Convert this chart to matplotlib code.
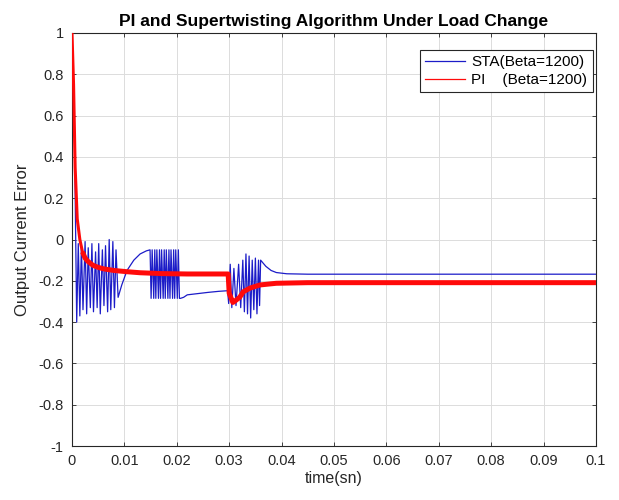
import matplotlib
matplotlib.use("Agg")
import matplotlib.pyplot as plt
from matplotlib.lines import Line2D

plt.rcParams['font.family'] = ['Liberation Sans', 'DejaVu Sans']

# STA (super-twisting) output current error: (time, value) points
sta_t = [0.0, 0.0004, 0.0009,
         0.0012, 0.0015, 0.0018, 0.0021, 0.0025, 0.0028, 0.0031, 0.0035, 0.0038, 0.0041,
         0.0045, 0.0048, 0.0051, 0.0054, 0.0058, 0.0061, 0.0064, 0.0068, 0.0071, 0.0074,
         0.0078, 0.0081, 0.0084, 0.0088,
         0.0095, 0.0105, 0.0118, 0.0130, 0.0142, 0.0149,
         0.0151, 0.0153, 0.0156, 0.0158, 0.0160, 0.0162, 0.0165, 0.0167, 0.0169, 0.0171,
         0.0174, 0.0176, 0.0178, 0.0180, 0.0183, 0.0185, 0.0187, 0.0189, 0.0192, 0.0194,
         0.0196, 0.0198, 0.0201, 0.0203, 0.0205, 0.0207,
         0.0213, 0.0220, 0.0240, 0.0260, 0.0280, 0.0297,
         0.0299, 0.0302, 0.0305, 0.0309, 0.0313, 0.0318, 0.0322, 0.0326, 0.0329, 0.0332,
         0.0335, 0.0338, 0.0341, 0.0344, 0.0347, 0.0350, 0.0353, 0.0356, 0.0358, 0.0360,
         0.0365, 0.0370, 0.0380, 0.0390, 0.0410, 0.0450, 0.1000]
sta_v = [1.0, 0.66, -0.40,
         -0.02, -0.37, -0.03, -0.34, -0.01, -0.36, -0.04, -0.33, -0.02, -0.35,
         -0.06, -0.33, -0.02, -0.36, -0.05, -0.32, -0.03, -0.35, 0.00, -0.34,
         -0.01, -0.33, -0.05, -0.28,
         -0.22, -0.15, -0.10, -0.07, -0.055, -0.05,
         -0.285, -0.05, -0.285, -0.05, -0.285, -0.05, -0.285, -0.05, -0.285, -0.05,
         -0.285, -0.05, -0.285, -0.05, -0.285, -0.05, -0.285, -0.05, -0.285, -0.05,
         -0.285, -0.05, -0.285, -0.05, -0.285, -0.285,
         -0.28, -0.268, -0.262, -0.256, -0.251, -0.248,
         -0.31, -0.12, -0.33, -0.14, -0.32, -0.12, -0.33, -0.10, -0.35, -0.07,
         -0.36, -0.08, -0.38, -0.10, -0.34, -0.09, -0.36, -0.10, -0.32, -0.10,
         -0.115, -0.13, -0.15, -0.16, -0.166, -0.168, -0.168]

# PI output current error: initial transient, then the chattering (thick) band
pi_start_t = [0.0, 0.0003, 0.0006, 0.0010, 0.0015, 0.0020]
pi_start_v = [1.0, 0.75, 0.35, 0.10, 0.0, -0.06]
pi_t = [0.0020, 0.0025, 0.0030, 0.0040, 0.0050,
        0.0060, 0.0080, 0.0105, 0.0130, 0.0170, 0.0220, 0.0298, 0.0300, 0.0307, 0.0310,
        0.0320, 0.0327, 0.0340, 0.0359, 0.0390, 0.0450, 0.1000]
pi_v = [-0.06, -0.09, -0.105, -0.125, -0.135,
        -0.142, -0.150, -0.156, -0.161, -0.165, -0.167, -0.167, -0.26, -0.305, -0.30,
        -0.28, -0.253, -0.235, -0.220, -0.212, -0.209, -0.209]

xticks = [0, 0.01, 0.02, 0.03, 0.04, 0.05, 0.06, 0.07, 0.08, 0.09, 0.1]
xticklabels = ["0", "0.01", "0.02", "0.03", "0.04", "0.05", "0.06", "0.07", "0.08", "0.09", "0.1"]
yticks = [-1, -0.8, -0.6, -0.4, -0.2, 0, 0.2, 0.4, 0.6, 0.8, 1]
yticklabels = ["-1", "-0.8", "-0.6", "-0.4", "-0.2", "0", "0.2", "0.4", "0.6", "0.8", "1"]
labels = ["STA(Beta=1200)", "PI    (Beta=1200)"]

blue = "#1c1cc8"
red = "#ff0a0a"

fig = plt.figure(figsize=(6.19, 5.0), dpi=100)
ax = fig.add_axes([0.1163, 0.108, 0.8465, 0.826])

ax.plot(sta_t, sta_v, color=blue, lw=0.9, zorder=3)
ax.plot(pi_start_t, pi_start_v, color=red, lw=2.2, zorder=4)
ax.plot(pi_t, pi_v, color=red, lw=3.6, zorder=4, solid_capstyle="butt")

ax.set_xlim(0, 0.1)
ax.set_ylim(-1, 1)
ax.set_xticks(xticks)
ax.set_xticklabels(xticklabels, fontsize=10.5, color="#262626")
ax.set_yticks(yticks)
ax.set_yticklabels(yticklabels, fontsize=10.5, color="#262626")
ax.tick_params(direction="in", length=3, width=0.6, top=True, right=True, colors="#262626", pad=6)
ax.grid(True, color="#dcdcdc", lw=0.7)
ax.set_axisbelow(True)
for s in ax.spines.values():
    s.set_color("#262626")
    s.set_linewidth(0.8)

ax.set_xlabel("time(sn)", fontsize=11.5, color="#262626", labelpad=2)
ax.set_ylabel("Output Current Error", fontsize=12, color="#262626", labelpad=6)
ax.set_title("PI and Supertwisting Algorithm Under Load Change", fontsize=12.5, fontweight="bold", pad=5)

handles = [Line2D([], [], color=blue, lw=0.9), Line2D([], [], color=red, lw=0.9)]
leg = ax.legend(handles, labels, loc="upper right", bbox_to_anchor=(0.994, 0.959), borderaxespad=0,
                fontsize=11, fancybox=False, framealpha=1, edgecolor="#262626", handlelength=2.6,
                handletextpad=0.45, borderpad=0.35, labelspacing=0.25)
leg.get_frame().set_linewidth(0.8)

fig.savefig("out.png", dpi=100)
